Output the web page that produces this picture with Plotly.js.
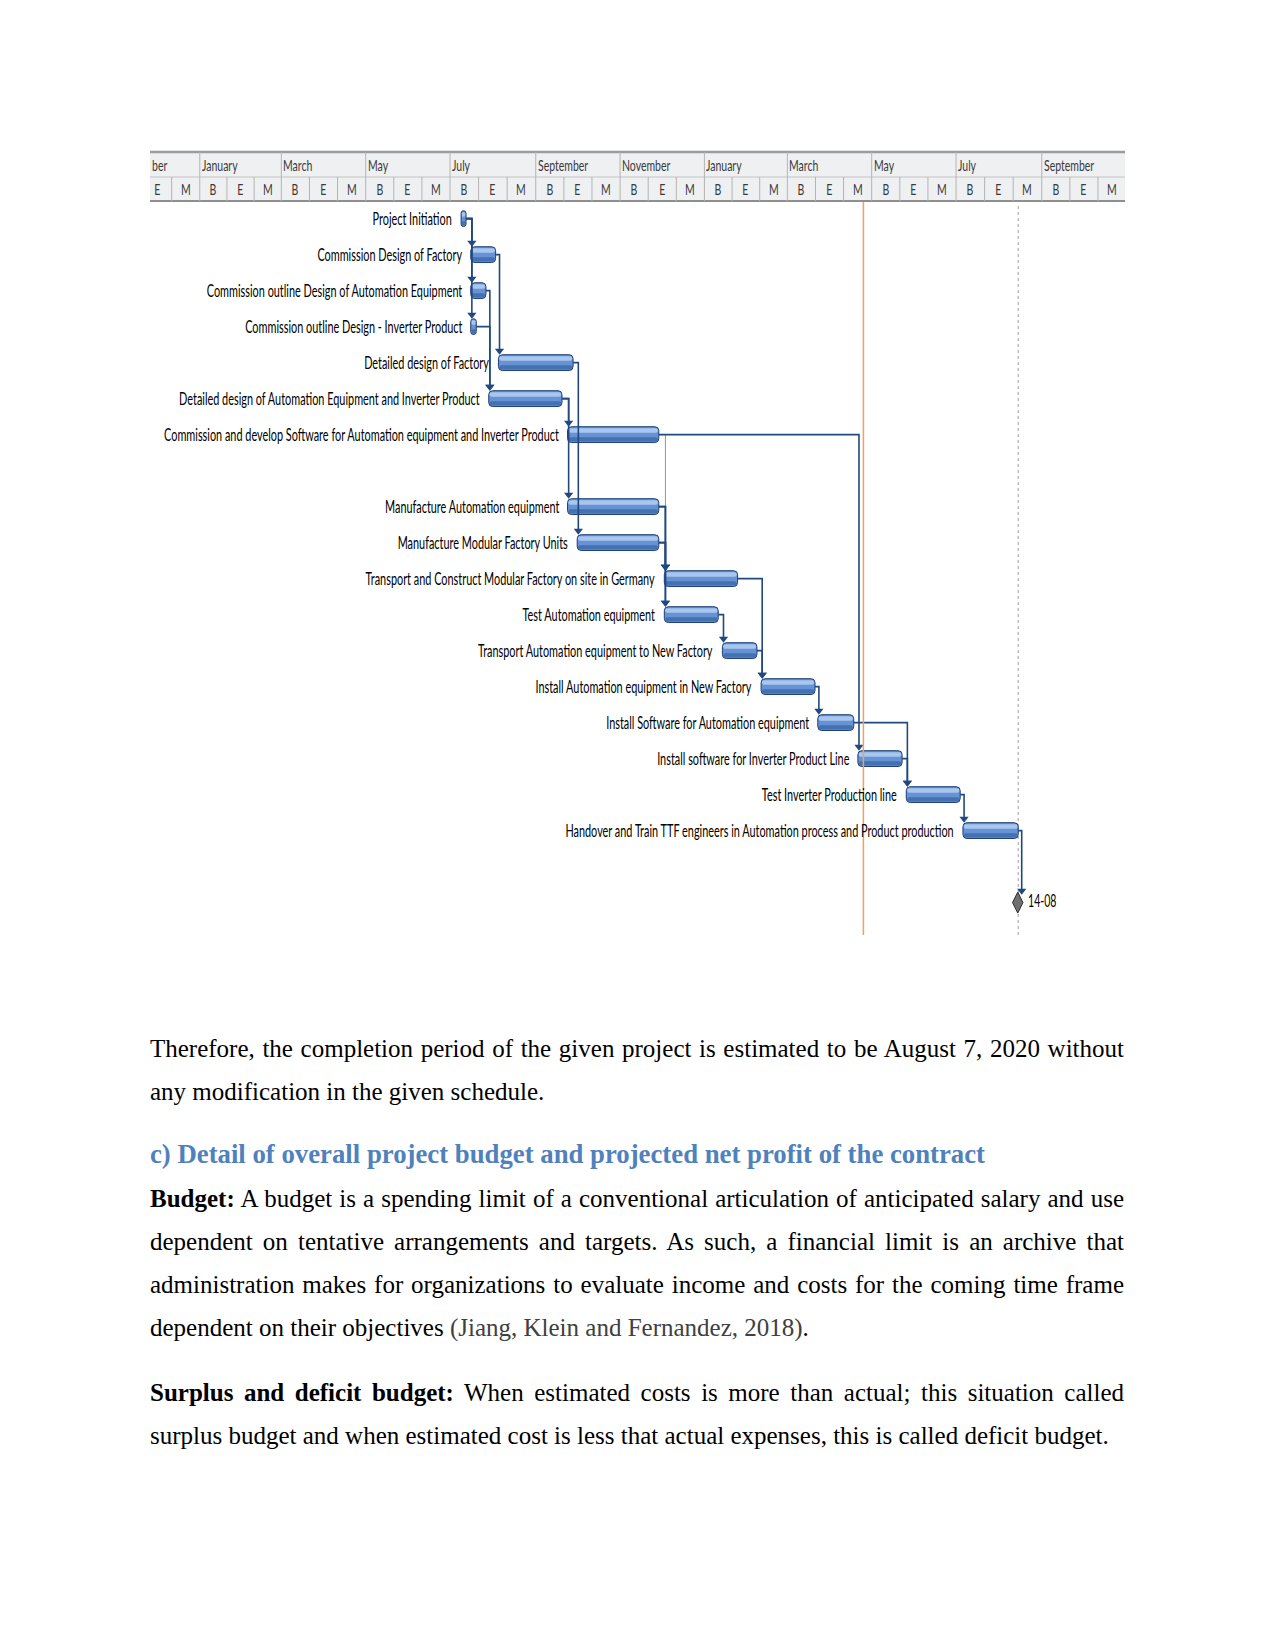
<!DOCTYPE html>
<html>
<head>
<meta charset="utf-8">
<script src="https://cdn.plot.ly/plotly-3.0.1.min.js"></script>
<style>
  html, body { margin: 0; padding: 0; background: #ffffff; }
  #chart { width: 1275px; height: 1650px; }
</style>
</head>
<body>
<div id="chart"></div>
<script>
// ---------------- DATA ----------------
const taskNames = [
  'Project Initiation',
  'Commission Design of Factory',
  'Commission outline Design of Automation Equipment',
  'Commission outline Design - Inverter Product',
  'Detailed design of Factory',
  'Detailed design of Automation Equipment and Inverter Product',
  'Commission and develop Software for Automation equipment and Inverter Product',
  'Manufacture Automation equipment',
  'Manufacture Modular Factory Units',
  'Transport and Construct Modular Factory on site in Germany',
  'Test Automation equipment',
  'Transport Automation equipment to New Factory',
  'Install Automation equipment in New Factory',
  'Install Software for Automation equipment',
  'Install software for Inverter Product Line',
  'Test Inverter Production line',
  'Handover and Train TTF engineers in Automation process and Product production'
];
const taskRows = [0, 1, 2, 3, 4, 5, 6, 8, 9, 10, 11, 12, 13, 14, 15, 16, 17];
const taskStart = [
  '2019-07-09', '2019-07-16', '2019-07-16', '2019-07-16', '2019-08-05', '2019-07-29',
  '2019-09-24', '2019-09-24', '2019-10-01', '2019-12-03', '2019-12-03', '2020-01-14',
  '2020-02-11', '2020-03-23', '2020-04-21', '2020-05-26', '2020-07-06'
];
const taskFinish = [
  '2019-07-12 14:00', '2019-08-03', '2019-07-27', '2019-07-20', '2019-09-28', '2019-09-20',
  '2019-11-29', '2019-11-29', '2019-11-29', '2020-01-25', '2020-01-11', '2020-02-08',
  '2020-03-21', '2020-04-18', '2020-05-23', '2020-07-04', '2020-08-15'
];
// dependency links (task index -> task index, 17 = final milestone)
const depFrom = [0, 0, 0, 1, 2, 3, 4, 5, 5, 6,  7, 8, 7,  8,  10, 9,  11, 12, 13, 14, 15, 16];
const depTo   = [1, 2, 3, 4, 5, 5, 8, 6, 7, 14, 9, 9, 10, 10, 11, 12, 12, 13, 15, 15, 16, 17];
const thinFrom = [6];
const thinTo   = [9];

const milestoneLabel = '14-08';
const milestoneDate = '2020-08-14 15:00';
const milestoneRow = 19;
const currentDate = '2020-04-25';
const deadlineDate = '2020-08-15';

const periodStarts = ['2018-11-01', '2019-01-01', '2019-03-01', '2019-05-01', '2019-07-01', '2019-09-01',
  '2019-11-01', '2020-01-01', '2020-03-01', '2020-05-01', '2020-07-01', '2020-09-01', '2020-11-01'];
const periodLabels = ['ber', 'January', 'March', 'May', 'July', 'September',
  'November', 'January', 'March', 'May', 'July', 'September'];
const subLabels = ['B', 'E', 'M'];

const bodyLines = [
  'Therefore, the completion period of the given project is estimated to be August 7, 2020 without',
  'any modification in the given schedule.',
  '<b>Budget:</b> A budget is a spending limit of a conventional articulation of anticipated salary and use',
  'dependent on tentative arrangements and targets. As such, a financial limit is an archive that',
  'administration makes for organizations to evaluate income and costs for the coming time frame',
  'dependent on their objectives <span style="color:#404040">(Jiang, Klein and Fernandez, 2018)</span>.',
  '<b>Surplus and deficit budget:</b> When estimated costs is more than actual; this situation called',
  'surplus budget and when estimated cost is less that actual expenses, this is called deficit budget.'
];
const headingText = 'c) Detail of overall project budget and projected net profit of the contract';

// ---------------- LAYOUT CONSTANTS ----------------
const PW = 1275, PH = 1650;
const chartLeft = 150, chartRight = 1125;
const headTop = 152, headMid = 177, headBottom = 201, chartBottom = 935;
const xRange = ['2018-11-26 00:00', '2020-10-31 05:00'];
const yRange = [19.9, -0.49];
const bodyYpx = [1048, 1091, 1198, 1241, 1284.5, 1327.5, 1392, 1435];
const bodyJustify = [true, false, true, true, true, false, true, false];
const headingY = 1154;
const textLeft = 150, textRight = 1124;

const GANTT_FONT = 'Lato, Open Sans, sans-serif';
const SERIF = 'Liberation Serif, Times New Roman, serif';
const labelSize = 17, headerSize = 15;
const labelSquash = 0.64, headerSquash = 0.70, milestoneSquash = 0.62;
const DAY = 86400000;

function ms(s) {
  const parts = s.split(' ');
  return Date.parse(parts[0] + 'T' + (parts[1] || '00:00') + ':00Z');
}
function fmt(m) {
  const d = new Date(m);
  const p = n => String(n).padStart(2, '0');
  return d.getUTCFullYear() + '-' + p(d.getUTCMonth() + 1) + '-' + p(d.getUTCDate()) + ' ' +
    p(d.getUTCHours()) + ':' + p(d.getUTCMinutes()) + ':' + p(d.getUTCSeconds());
}
const py = px => 1 - px / PH;
const pxx = px => px / PW;

const startMs = taskStart.map(ms);
const endMs = taskFinish.map(ms);
const durMs = startMs.map((s, i) => endMs[i] - s);

// ---------------- TRACES ----------------
const traces = [];
const barLine = '#1f3f73';
traces.push({
  type: 'bar', orientation: 'h', y: taskRows, x: durMs, base: taskStart.map(s => fmt(ms(s))),
  width: 0.44, marker: { color: '#6792d3', line: { color: barLine, width: 1 } },
  hoverinfo: 'skip'
});
// shading bands to imitate the 3D gradient of the bars
traces.push({
  type: 'bar', orientation: 'h', y: taskRows,
  x: durMs.map(d => Math.max(d - 1.2 * DAY, 0.5 * DAY)),
  base: startMs.map(s => fmt(s + 0.6 * DAY)),
  width: 0.13, offset: -0.18, marker: { color: '#a8c6ef', line: { width: 0 } }, hoverinfo: 'skip'
});
traces.push({
  type: 'bar', orientation: 'h', y: taskRows,
  x: durMs.map(d => Math.max(d - 1.2 * DAY, 0.5 * DAY)),
  base: startMs.map(s => fmt(s + 0.6 * DAY)),
  width: 0.12, offset: 0.07, marker: { color: '#4470b4', line: { width: 0 } }, hoverinfo: 'skip'
});

function targetInfo(t) {
  if (t === taskNames.length) return { s: ms(milestoneDate), row: milestoneRow };
  return { s: startMs[t], row: taskRows[t] };
}
function linkPaths(fromArr, toArr) {
  const lx = [], ly = [], ax = [], ay = [];
  fromArr.forEach((f, k) => {
    const tg = targetInfo(toArr[k]);
    const xv = Math.max(tg.s + 0.8 * DAY, endMs[f] + 2.5 * DAY);
    const yArrow = tg.row - 0.33;
    lx.push(fmt(endMs[f]), fmt(xv), fmt(xv), null);
    ly.push(taskRows[f], taskRows[f], yArrow, null);
    ax.push(fmt(xv)); ay.push(yArrow);
  });
  return { lx, ly, ax, ay };
}
const thin = linkPaths(thinFrom, thinTo);
traces.push({ type: 'scatter', mode: 'lines', x: thin.lx, y: thin.ly, connectgaps: false,
  line: { color: '#7f98bf', width: 1 }, hoverinfo: 'skip' });
const links = linkPaths(depFrom, depTo);
traces.push({ type: 'scatter', mode: 'lines', x: links.lx, y: links.ly, connectgaps: false,
  line: { color: '#21497f', width: 1.6 }, hoverinfo: 'skip' });
traces.push({ type: 'scatter', mode: 'markers', x: links.ax.concat(thin.ax), y: links.ay.concat(thin.ay),
  marker: { symbol: 'triangle-down', size: 8, color: '#21497f' }, hoverinfo: 'skip' });
traces.push({ type: 'scatter', mode: 'markers+text', x: [fmt(ms(milestoneDate))], y: [milestoneRow],
  text: [milestoneLabel], textposition: 'middle right',
  textfont: { family: GANTT_FONT, size: labelSize, color: '#000' },
  marker: { symbol: 'diamond-tall', size: 15, color: '#707070', line: { color: '#303030', width: 1 } },
  hoverinfo: 'skip' });

// ---------------- SHAPES & ANNOTATIONS ----------------
const shapes = [];
const annotations = [];
const squash = {};
const r0 = ms(xRange[0]), r1 = ms(xRange[1]);

// header background and borders
shapes.push({ type: 'rect', xref: 'paper', yref: 'paper', x0: pxx(chartLeft), x1: pxx(chartRight),
  y0: py(headBottom), y1: py(headTop), fillcolor: '#eff0f2', line: { width: 0 }, layer: 'below' });
shapes.push({ type: 'line', xref: 'paper', yref: 'paper', x0: pxx(chartLeft), x1: pxx(chartRight),
  y0: py(headTop), y1: py(headTop), line: { color: '#9c9c9c', width: 2.5 } });
shapes.push({ type: 'line', xref: 'paper', yref: 'paper', x0: pxx(chartLeft), x1: pxx(chartRight),
  y0: py(headMid), y1: py(headMid), line: { color: '#c4c4c4', width: 1 } });
shapes.push({ type: 'line', xref: 'paper', yref: 'paper', x0: pxx(chartLeft), x1: pxx(chartRight),
  y0: py(headBottom), y1: py(headBottom), line: { color: '#8f8f8f', width: 2 } });

for (let i = 0; i < periodLabels.length; i++) {
  const a = ms(periodStarts[i]), b = ms(periodStarts[i + 1]);
  if (a > r0 && a < r1) {
    shapes.push({ type: 'line', xref: 'x', yref: 'paper', x0: fmt(a), x1: fmt(a),
      y0: py(headMid), y1: py(headTop), line: { color: '#b4b4b4', width: 1 } });
  }
  squash[annotations.length] = headerSquash;
  annotations.push({ xref: 'x', yref: 'paper', x: fmt(Math.max(a, r0)), y: py(165), xanchor: 'left',
    yanchor: 'middle', align: 'left', xshift: 0, text: periodLabels[i], showarrow: false,
    font: { family: GANTT_FONT, size: headerSize, color: '#3a3a3a' } });
  for (let k = 0; k < 3; k++) {
    const c0 = a + (b - a) * k / 3, c1 = a + (b - a) * (k + 1) / 3;
    if (c0 > r0 && c0 < r1) {
      shapes.push({ type: 'line', xref: 'x', yref: 'paper', x0: fmt(c0), x1: fmt(c0),
        y0: py(headBottom), y1: py(headMid), line: { color: '#b4b4b4', width: 1 } });
    }
    const cm = (c0 + c1) / 2;
    if (cm > r0 && cm < r1) {
      squash[annotations.length] = headerSquash;
      annotations.push({ xref: 'x', yref: 'paper', x: fmt(cm), y: py(189), xanchor: 'center',
        yanchor: 'middle', text: subLabels[k], showarrow: false,
        font: { family: GANTT_FONT, size: headerSize, color: '#3a3a3a' } });
    }
  }
}

// current date line and deadline line
shapes.push({ type: 'line', xref: 'x', yref: 'paper', x0: fmt(ms(currentDate)), x1: fmt(ms(currentDate)),
  y0: py(chartBottom), y1: py(headBottom + 1), line: { color: '#e9a55f', width: 1.5 }, layer: 'above' });
shapes.push({ type: 'line', xref: 'x', yref: 'paper', x0: fmt(ms(deadlineDate)), x1: fmt(ms(deadlineDate)),
  y0: py(chartBottom), y1: py(headBottom + 2), line: { color: '#b0b0b0', width: 1.2, dash: 'dot' }, layer: 'below' });

// task labels
taskNames.forEach((n, i) => {
  squash[annotations.length] = labelSquash;
  annotations.push({ xref: 'x', yref: 'y', x: fmt(startMs[i]), y: taskRows[i], xanchor: 'right',
    yanchor: 'middle', align: 'right', xshift: -7, text: n, showarrow: false,
    font: { family: GANTT_FONT, size: labelSize, color: '#000' } });
});

// document text
const justifyIdx = [];
bodyLines.forEach((t, i) => {
  if (bodyJustify[i]) justifyIdx.push(annotations.length);
  annotations.push({ xref: 'paper', yref: 'paper', x: pxx(textLeft), y: py(bodyYpx[i]), xanchor: 'left',
    xshift: -2, yanchor: 'middle', align: 'left', text: t, showarrow: false,
    font: { family: SERIF, size: 25, color: '#000' } });
});
annotations.push({ xref: 'paper', yref: 'paper', x: pxx(textLeft), y: py(headingY), xanchor: 'left',
  xshift: -2, yanchor: 'middle', align: 'left', text: '<b>' + headingText + '</b>', showarrow: false,
  font: { family: SERIF, size: 26.75, color: '#4f81bd' } });

const layout = {
  width: PW, height: PH, margin: { l: 0, r: 0, t: 0, b: 0, pad: 0 },
  paper_bgcolor: '#ffffff', plot_bgcolor: 'rgba(0,0,0,0)',
  showlegend: false, hovermode: false, barmode: 'overlay', barcornerradius: 4,
  xaxis: { type: 'date', range: xRange, domain: [pxx(chartLeft), pxx(chartRight)],
    visible: false, showgrid: false, zeroline: false, fixedrange: true },
  yaxis: { range: yRange, domain: [py(chartBottom), py(headBottom)], visible: false,
    showgrid: false, zeroline: false, fixedrange: true },
  shapes: shapes, annotations: annotations
};

function squashText(txt, f) {
  const w = txt.getComputedTextLength();
  if (w > 0) {
    txt.setAttribute('textLength', (w * f).toFixed(2));
    txt.setAttribute('lengthAdjust', 'spacingAndGlyphs');
  }
}

Plotly.newPlot('chart', traces, layout, { displayModeBar: false, staticPlot: true }).then(gd => {
  const groups = gd.querySelectorAll('.annotation');
  groups.forEach(g => {
    const idx = +g.getAttribute('data-index');
    const txt = g.querySelector('text.annotation-text');
    if (!txt) return;
    if (squash[idx] !== undefined) {
      squashText(txt, squash[idx]);
    }
    if (justifyIdx.indexOf(idx) >= 0) {
      const w = txt.getComputedTextLength();
      const spaces = (txt.textContent.match(/ /g) || []).length;
      if (spaces > 0) {
        txt.style.wordSpacing = ((textRight - textLeft - w) / spaces) + 'px';
      }
    }
  });
  gd.querySelectorAll('.textpoint text').forEach(t => squashText(t, milestoneSquash));
});
</script>
</body>
</html>
